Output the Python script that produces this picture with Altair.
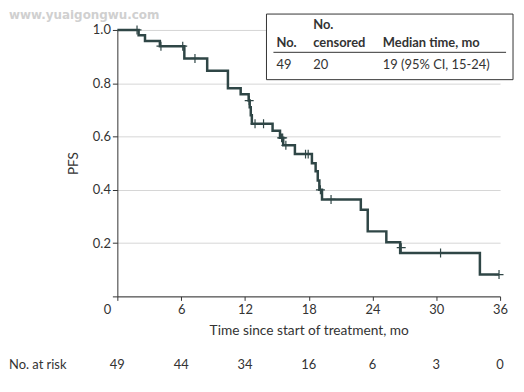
import altair as alt
import pandas as pd

# ---- data ----
times = [0, 2.0, 2.6, 4.0, 6.3, 8.45, 10.4, 11.6, 12.35, 12.45, 12.55, 12.65,
         14.6, 15.3, 15.6, 16.7, 18.3, 18.65, 18.85, 19.0, 19.25, 22.9, 23.55,
         25.3, 26.6, 34.1, 35.9]
surv = [1.0, 0.980, 0.959, 0.939, 0.893, 0.847, 0.781, 0.759, 0.735, 0.71, 0.68, 0.648,
        0.622, 0.595, 0.567, 0.534, 0.500, 0.47, 0.435, 0.40, 0.364, 0.325, 0.244,
        0.203, 0.163, 0.082, 0.082]
cens_t = [1.85, 4.1, 6.15, 7.3, 12.4, 12.95, 13.75, 15.45, 15.55, 15.85, 17.7, 17.95,
          19.1, 20.1, 26.7, 30.4, 35.9]
cens_s = [1.0, 0.939, 0.939, 0.893, 0.735, 0.648, 0.648, 0.595, 0.595, 0.567, 0.534,
          0.534, 0.40, 0.364, 0.183, 0.163, 0.082]
risk_t = [0, 6, 12, 18, 24, 30, 36]
risk_n = [49, 44, 34, 16, 6, 3, 0]
x_ticks = [0, 6, 12, 18, 24, 30, 36]
y_ticks = [0, 0.2, 0.4, 0.6, 0.8, 1.0]
hdr_top = ["", "No.", ""]
hdr_bottom = ["No.", "censored", "Median time, mo"]
tbl_row = ["49", "20", "19 (95% CI, 15-24)"]
risk_title = "No. at risk"
watermark = "www.yuaigongwu.com"

FONT = "Lato"
CURVE = "#2f4646"
TXT = "#333333"
W, H = 385, 268
COLS = [160, 197, 267]

curve = pd.DataFrame({"t": times, "s": surv})
cens = pd.DataFrame({"t": cens_t, "s": cens_s})
risk = pd.DataFrame({"t": risk_t, "n": [str(v) for v in risk_n]})
one = pd.DataFrame({"a": [0]})

xs = alt.Scale(domain=[0, 36], nice=False, zero=False)
ys = alt.Scale(domain=[0, 1], nice=False)

xaxis = alt.Axis(values=x_ticks, title="Time since start of treatment, mo",
                 labelExpr="datum.value == 0 ? '' : datum.label",
                 grid=False, tickSize=4, labelPadding=3, titlePadding=7,
                 titleFontSize=13.8, labelFlush=False)
yaxis = alt.Axis(values=y_ticks, title="PFS", format=".1f",
                 labelExpr="datum.value == 0 ? '' : datum.label",
                 grid=True, gridColor="#d6d6d6", tickSize=5, labelPadding=2,
                 titlePadding=12, titleFontSize=13.5)

line = alt.Chart(curve).mark_line(
    interpolate="step-after", color=CURVE, strokeWidth=2.5
).encode(
    x=alt.X("t:Q", scale=xs, axis=xaxis),
    y=alt.Y("s:Q", scale=ys, axis=yaxis),
)

marks = alt.Chart(cens).mark_point(
    shape="M-1,0L1,0M0,-1L0,1", size=81, filled=False, color=CURVE,
    strokeWidth=1.2, opacity=1
).encode(x=alt.X("t:Q", scale=xs), y=alt.Y("s:Q", scale=ys))

zero_lbl = alt.Chart(one).mark_text(
    text="0", font=FONT, fontSize=13, color=TXT, baseline="middle", align="center"
).encode(x=alt.value(-10), y=alt.value(H + 14))

risk_txt = alt.Chart(risk).mark_text(
    font=FONT, fontSize=13, color=TXT, baseline="middle", align="center"
).encode(x=alt.X("t:Q", scale=xs), y=alt.value(337), text="n:N")

risk_lbl = alt.Chart(one).mark_text(
    text=risk_title, font=FONT, fontSize=13, color=TXT, baseline="middle", align="left"
).encode(x=alt.value(-109), y=alt.value(337))

wm = alt.Chart(one).mark_text(
    text=watermark, font="DejaVu Sans", fontWeight="bold", fontSize=12,
    color="#d0d0d0", baseline="top", align="left"
).encode(x=alt.value(-109), y=alt.value(-20))

box = alt.Chart(one).mark_rect(
    fill="white", stroke="#333333", strokeWidth=1
).encode(x=alt.value(150), x2=alt.value(398), y=alt.value(-16), y2=alt.value(50))

sep = alt.Chart(one).mark_rule(color="#333333", strokeWidth=1).encode(
    x=alt.value(157), x2=alt.value(391), y=alt.value(22.5))

layers = [line, marks, zero_lbl, risk_txt, risk_lbl, wm, box, sep]
for i in range(3):
    if hdr_top[i]:
        layers.append(alt.Chart(one).mark_text(
            text=hdr_top[i], font=FONT, fontWeight="bold", fontSize=13, color=TXT,
            baseline="alphabetic", align="left").encode(x=alt.value(COLS[i]), y=alt.value(-1)))
    layers.append(alt.Chart(one).mark_text(
        text=hdr_bottom[i], font=FONT, fontWeight="bold", fontSize=13, color=TXT,
        baseline="alphabetic", align="left").encode(x=alt.value(COLS[i]), y=alt.value(17)))
    layers.append(alt.Chart(one).mark_text(
        text=tbl_row[i], font=FONT, fontSize=13, color=TXT,
        baseline="alphabetic", align="left").encode(x=alt.value(COLS[i]), y=alt.value(39)))

chart = alt.layer(*layers).properties(
    width=W, height=H,
    padding={"left": 110, "top": 21, "right": 16, "bottom": 80},
    autosize="none",
).configure_view(stroke=None).configure_axis(
    labelFont=FONT, titleFont=FONT, labelFontSize=13, titleFontSize=13,
    labelColor=TXT, titleColor=TXT, titleFontWeight="normal",
    domainColor="#333333", tickColor="#333333"
)

chart.save("out.html", embed_options={"renderer": "svg", "actions": False})
